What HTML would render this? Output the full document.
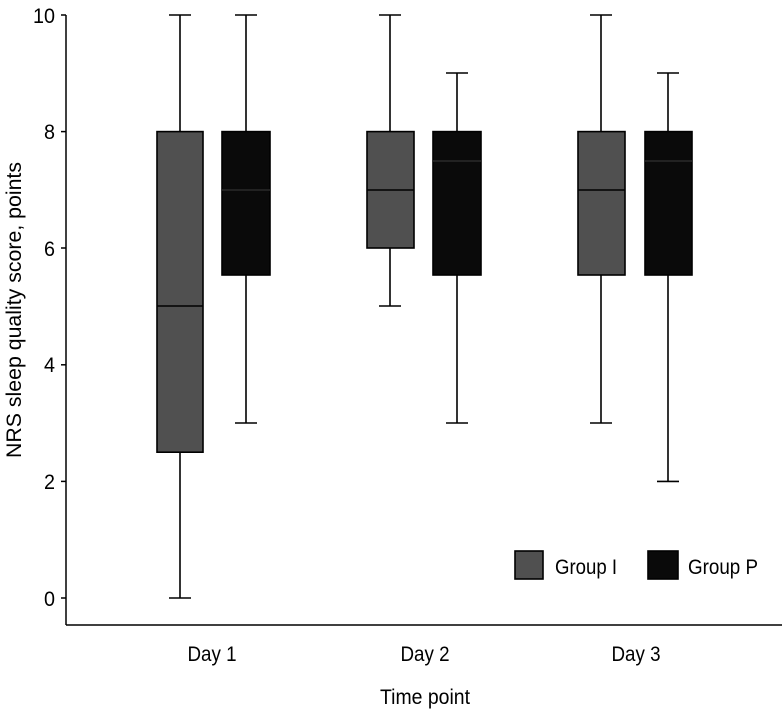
<!DOCTYPE html>
<html><head><style>
html,body{margin:0;padding:0;background:#fff;}
svg{display:block;}
text{font-family:"Liberation Sans",sans-serif;fill:#000;}
</style></head><body>
<svg width="782" height="710" viewBox="0 0 782 710" xmlns="http://www.w3.org/2000/svg">
<g stroke="#000" stroke-width="1.5" fill="none">
<line x1="66" y1="15" x2="66" y2="625"/>
<line x1="66" y1="625" x2="782" y2="625"/>
<line x1="61" y1="15" x2="66" y2="15"/>
<line x1="61" y1="131.6" x2="66" y2="131.6"/>
<line x1="61" y1="248" x2="66" y2="248"/>
<line x1="61" y1="364.8" x2="66" y2="364.8"/>
<line x1="61" y1="481.4" x2="66" y2="481.4"/>
<line x1="61" y1="598" x2="66" y2="598"/>
</g>
<g font-size="21" text-anchor="end" lengthAdjust="spacingAndGlyphs">
<text x="55" y="23" textLength="22" lengthAdjust="spacingAndGlyphs">10</text>
<text x="55" y="139" textLength="11" lengthAdjust="spacingAndGlyphs">8</text>
<text x="55" y="256" textLength="11" lengthAdjust="spacingAndGlyphs">6</text>
<text x="55" y="372" textLength="11" lengthAdjust="spacingAndGlyphs">4</text>
<text x="55" y="489" textLength="11" lengthAdjust="spacingAndGlyphs">2</text>
<text x="55" y="606" textLength="11" lengthAdjust="spacingAndGlyphs">0</text>
</g>
<text x="21" y="310" font-size="21" text-anchor="middle" textLength="296" lengthAdjust="spacingAndGlyphs" transform="rotate(-90 21 310)">NRS sleep quality score, points</text>
<g font-size="21" text-anchor="middle">
<text x="212" y="661" textLength="49" lengthAdjust="spacingAndGlyphs">Day 1</text>
<text x="425" y="661" textLength="49" lengthAdjust="spacingAndGlyphs">Day 2</text>
<text x="636" y="661" textLength="49" lengthAdjust="spacingAndGlyphs">Day 3</text>
<text x="425" y="704" textLength="90" lengthAdjust="spacingAndGlyphs">Time point</text>
</g>
<g stroke="#000" stroke-width="1.6">
<line x1="180" y1="15" x2="180" y2="598"/><line x1="169" y1="15" x2="191" y2="15"/><line x1="169" y1="598" x2="191" y2="598"/>
<rect x="157" y="131.6" width="46" height="320.6" fill="#505050"/><line x1="157" y1="306" x2="203" y2="306"/>
<line x1="246" y1="15" x2="246" y2="423"/><line x1="235" y1="15" x2="257" y2="15"/><line x1="235" y1="423" x2="257" y2="423"/>
<rect x="222" y="131.6" width="48" height="143.4" fill="#0a0a0a"/><line x1="222" y1="190" x2="270" y2="190" stroke="#2a2a2a"/>
<line x1="390" y1="15" x2="390" y2="306"/><line x1="379" y1="15" x2="401" y2="15"/><line x1="379" y1="306" x2="401" y2="306"/>
<rect x="367" y="131.6" width="47" height="116.4" fill="#505050"/><line x1="367" y1="190" x2="414" y2="190"/>
<line x1="457" y1="73" x2="457" y2="423"/><line x1="446" y1="73" x2="468" y2="73"/><line x1="446" y1="423" x2="468" y2="423"/>
<rect x="433" y="131.6" width="48" height="143.4" fill="#0a0a0a"/><line x1="433" y1="161" x2="481" y2="161" stroke="#2a2a2a"/>
<line x1="601" y1="15" x2="601" y2="423"/><line x1="590" y1="15" x2="612" y2="15"/><line x1="590" y1="423" x2="612" y2="423"/>
<rect x="578" y="131.6" width="47" height="143.4" fill="#505050"/><line x1="578" y1="190" x2="625" y2="190"/>
<line x1="668" y1="73" x2="668" y2="481.4"/><line x1="657" y1="73" x2="679" y2="73"/><line x1="657" y1="481.4" x2="679" y2="481.4"/>
<rect x="645" y="131.6" width="47" height="143.4" fill="#0a0a0a"/><line x1="645" y1="161" x2="692" y2="161" stroke="#2a2a2a"/>
<rect x="515" y="551" width="28" height="28" fill="#505050"/>
<rect x="648" y="551" width="30" height="28" fill="#0a0a0a"/>
</g>
<text x="555" y="574" font-size="21" textLength="62" lengthAdjust="spacingAndGlyphs">Group I</text>
<text x="688" y="574" font-size="21" textLength="70" lengthAdjust="spacingAndGlyphs">Group P</text>
</svg>
</body></html>
